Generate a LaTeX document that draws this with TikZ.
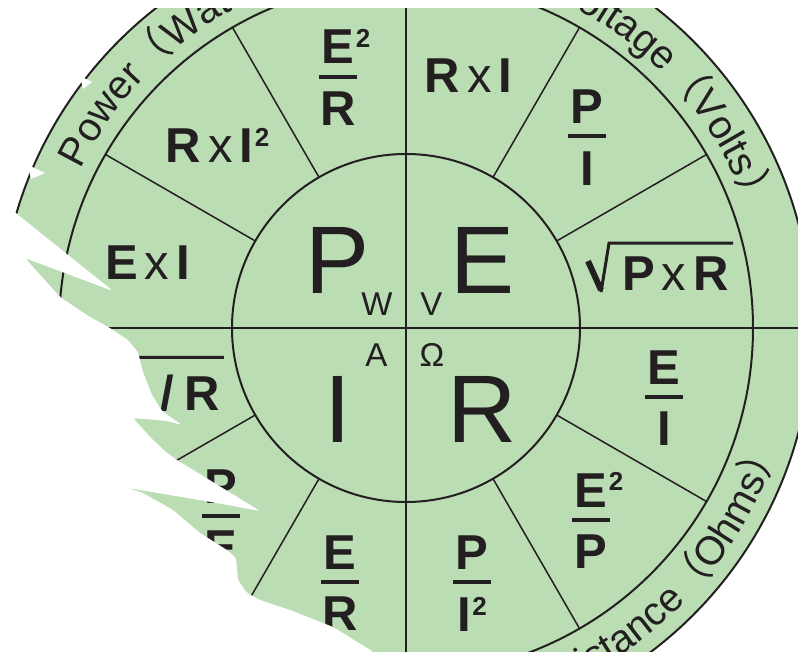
\documentclass[tikz,border=0pt]{standalone}
\usepackage{fontspec}
\setmainfont{Liberation Sans}
\newfontfamily\cjkfont{Noto Sans CJK SC}
\usetikzlibrary{calc, decorations.text}

\definecolor{wheelgreen}{RGB}{187,221,180}
\definecolor{ink}{RGB}{35,31,32}

\newcommand\bigfont{\fontsize{96}{96}\selectfont}
\newcommand\unitfont{\fontsize{33}{33}\selectfont}
\newcommand\fmlfont{\fontsize{49}{49}\selectfont\bfseries}
\newcommand\ringfont{\fontsize{40}{40}\selectfont\color{ink}}
\newcommand\tms{\kern7pt{\mdseries x}\kern7pt}
\newcommand\sqr{\kern1.5pt\raisebox{16.5pt}{\fontsize{26}{26}\selectfont\bfseries 2}}

% fraction: bar node, numerator above, denominator below
\newcommand\fracat[4]{%
  \node[fbar] (#1) at (#2) {};
  \node[fml, anchor=base]  (#1-n) at ([yshift=13pt]#1.center) {#3};
  \node[fml, anchor=north] (#1-d) at ([yshift=-15pt]#1.center) {#4};}

% radical sign over a formula node
\newcommand\rootover[2]{%
  \draw[ink, line width=6pt] ($(#1.north west)+(-34,{#2-18})$) -- ($(#1.north west)+(-21,-34)$);
  \draw[root] ($(#1.north west)+(-21,-36)$) -- ($(#1.north west)+(-13,#2)$)
              -- ($(#1.north east)+(4,#2)$);}

\begin{document}
\begin{tikzpicture}[
  x=1pt, y=1pt,
  ring/.style={draw=ink, line width=2pt},
  axis/.style={draw=ink, line width=2.5pt},
  spoke/.style={draw=ink, line width=1.5pt},
  big/.style={inner sep=0, text=ink, font=\bigfont, anchor=base},
  unit/.style={inner sep=0, text=ink, font=\unitfont, anchor=base},
  fml/.style={inner sep=0, text=ink, font=\fmlfont},
  fbar/.style={fill=ink, inner sep=0, minimum width=38pt, minimum height=4pt},
  root/.style={draw=ink, line width=3pt, line join=miter},
  ringtext/.style={decorate, decoration={text along path, text align=left,
                   text={|\ringfont|#1}}}
]
  \fill[white] (-406,-323) rectangle (392,328);
  \useasboundingbox (-406,-323) rectangle (392,328);
  \clip (-406,-323) rectangle (392,328);

  % wheel
  \fill[wheelgreen] (0,0) circle (406);
  \draw[ring] (0,0) circle (406);
  \draw[ring] (0,0) circle (347);
  \draw[ring] (0,0) circle (174);
  \draw[axis] (0,-406) -- (0,406);
  \draw[axis] (-406,0) -- (406,0);
  \foreach \a in {30,60,120,150,210,240,300,330}
    \draw[spoke] (\a:174) -- (\a:347);

  % quantities
  \node[big]  (pw) at (-68.4,35)  {P};
  \node[big]  (vt) at (76.9,35)   {E};
  \node[big]  (cu) at (-68.6,-114) {I};
  \node[big]  (rs) at (76,-114)   {R};
  \node[unit] (pw-u) at (-29,13)   {W};
  \node[unit] (vt-u) at (25.5,13)  {V};
  \node[unit] (cu-u) at (-29.5,-38) {A};
  \node[unit] (rs-u) at (26,-38)   {Ω};

  % formulas
  \fracat{eer}{-68,251}{E\rlap{\sqr}}{R}
  \node[fml, anchor=base] (rii) at (-188.5,165) {R\tms I\sqr};
  \node[fml, anchor=base] (ei)  at (-258.5,49)  {E\tms I};
  \node[fml, anchor=base] (ri)  at (62.5,235)   {R\tms I};
  \fracat{pi}{181,191.5}{P}{I}
  \node[fml, anchor=base east] (pxr) at (323,38) {P\tms R};
  \rootover{pxr}{13}
  \fracat{ei2}{258,-69}{E}{I}
  \fracat{eep}{185,-192}{E\rlap{\sqr}}{P}
  \fracat{pii}{66,-254}{P}{I\sqr}
  \fracat{er}{-66,-254}{E}{R}
  \fracat{pe}{-185,-188}{P}{E}
  \node[fml, anchor=base east] (ppr) at (-186,-82) {P\kern12pt/\kern10pt R};
  \rootover{ppr}{17}

  % ring labels
  \path[ringtext={Power{\cjkfont （}Watts{\cjkfont ）}}]
    (154:362) arc[start angle=154, end angle=60, radius=362];
  \path[ringtext={Voltage{\cjkfont （}Volts{\cjkfont ）}}]
    (66.3:362) arc[start angle=66.3, end angle=-20, radius=362];
  \path[ringtext={Resistance{\cjkfont （}Ohms{\cjkfont ）}}]
    (-73.3:391) arc[start angle=-73.3, end angle=10, radius=391];

  % torn paper
  \fill[white] (-406,320) rectangle (392,328);
  \fill[white, rounded corners=3pt] (-416,138) -- (-389,114) -- (-293,37) -- (-381,70)
    -- (-346,31) -- (-316,11) -- (-296,0) -- (-278,-12) -- (-268,-24) -- (-263,-44)
    -- (-254,-67) -- (-244,-83) -- (-224,-97) -- (-239,-93) -- (-273,-90) -- (-256,-109)
    -- (-239,-125) -- (-229,-132) -- (-146,-183) -- (-206,-172) -- (-278,-160)
    -- (-263,-165) -- (-233,-182) -- (-206,-205) -- (-179,-222) -- (-170,-230)
    -- (-168,-252) -- (-159,-265) -- (-146,-272) -- (-116,-282) -- (-73,-299)
    -- (-34,-323) -- (-26,-332) -- (-416,-332) -- cycle;
  \fill[white] (-378,163) -- (-361,155) -- (-375,149) -- cycle;
  \fill[white] (-326,252) -- (-314,246) -- (-323,239) -- cycle;
\end{tikzpicture}
\end{document}
